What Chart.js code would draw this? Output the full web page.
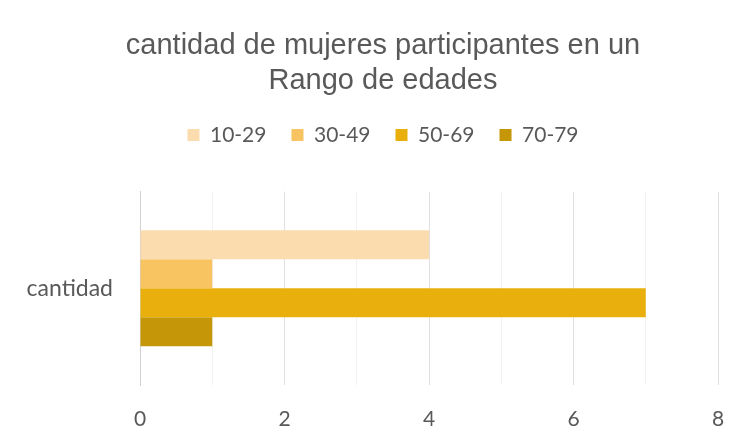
<!DOCTYPE html>
<html>
<head>
<meta charset="utf-8">
<script src="https://cdn.jsdelivr.net/npm/chart.js@4"></script>
<style>
  html, body { margin: 0; padding: 0; background: #fff; }
  #wrap { width: 737px; height: 448px; }
  canvas { filter: blur(0.6px); }
</style>
</head>
<body>
<div id="wrap"><canvas id="chart" width="737" height="448"></canvas></div>
<script>
// --- Datos ---
const categorias = ["cantidad"];
const rangos = ["10-29", "30-49", "50-69", "70-79"];
const valores = [4, 1, 7, 1];
const colores = ["#FBDCAE", "#F7C461", "#E9AF0D", "#C59608"];

const gris = "#595959";

const datasets = rangos.map((r, i) => ({
    label: r,
    data: [valores[i]],
    backgroundColor: colores[i],
    borderWidth: 0,
    barPercentage: 1,
    categoryPercentage: 0.6,
}));

// espacio extra bajo la leyenda + desplazar título/leyenda a la derecha
const ajustes = {
    id: "ajustes",
    beforeInit(chart) {
        const fitOrig = chart.legend.fit;
        chart.legend.fit = function () {
            fitOrig.call(this);
            this.height += 36;
        };
    },
    afterLayout(chart) {
        const dx = 24;
        [chart.titleBlock, chart.legend].forEach((b) => {
            if (!b) return;
            b.left += dx;
            b.right += dx;
        });
        if (chart.legend.legendHitBoxes) {
            chart.legend.legendHitBoxes.forEach((h) => { h.left += dx; });
        }
    },
};

new Chart(document.getElementById("chart"), {
    type: "bar",
    data: { labels: categorias, datasets },
    plugins: [ajustes],
    options: {
        indexAxis: "y",
        responsive: false,
        animation: false,
        devicePixelRatio: 1,
        layout: { padding: { left: 0, right: 19, top: 29, bottom: 0 } },
        plugins: {
            title: {
                display: true,
                text: ["cantidad de mujeres participantes en un", "Rango de edades"],
                color: gris,
                font: { family: "Liberation Sans", size: 29, weight: "normal" },
                lineHeight: 1.0,
                padding: { top: 0, bottom: 1 },
            },
            legend: {
                position: "top",
                labels: {
                    color: gris,
                    font: { family: "Lato", size: 21 },
                    boxWidth: 12,
                    boxHeight: 12,
                    padding: 25,
                },
            },
            tooltip: { enabled: false },
        },
        scales: {
            x: {
                min: 0,
                max: 8,
                afterFit: (s) => {
                    s.height = 63;
                    s.paddingRight = 0;
                },
                ticks: {
                    stepSize: 1,
                    color: gris,
                    font: { family: "Lato", size: 21 },
                    padding: 22,
                    callback: (v) => (v % 2 === 0 ? v : ""),
                },
                grid: {
                    color: (c) => (c.tick && c.tick.value % 2 === 0 ? "#E0E0E0" : "#F2F2F2"),
                    drawTicks: false,
                },
                border: { display: false },
            },
            y: {
                afterFit: (s) => { s.width = 140; },
                ticks: {
                    color: gris,
                    font: { family: "Lato", size: 23 },
                    padding: 27,
                },
                grid: { display: false, drawTicks: false },
                border: { color: "#D0D0D0", width: 1 },
            },
        },
    },
});
</script>
</body>
</html>
